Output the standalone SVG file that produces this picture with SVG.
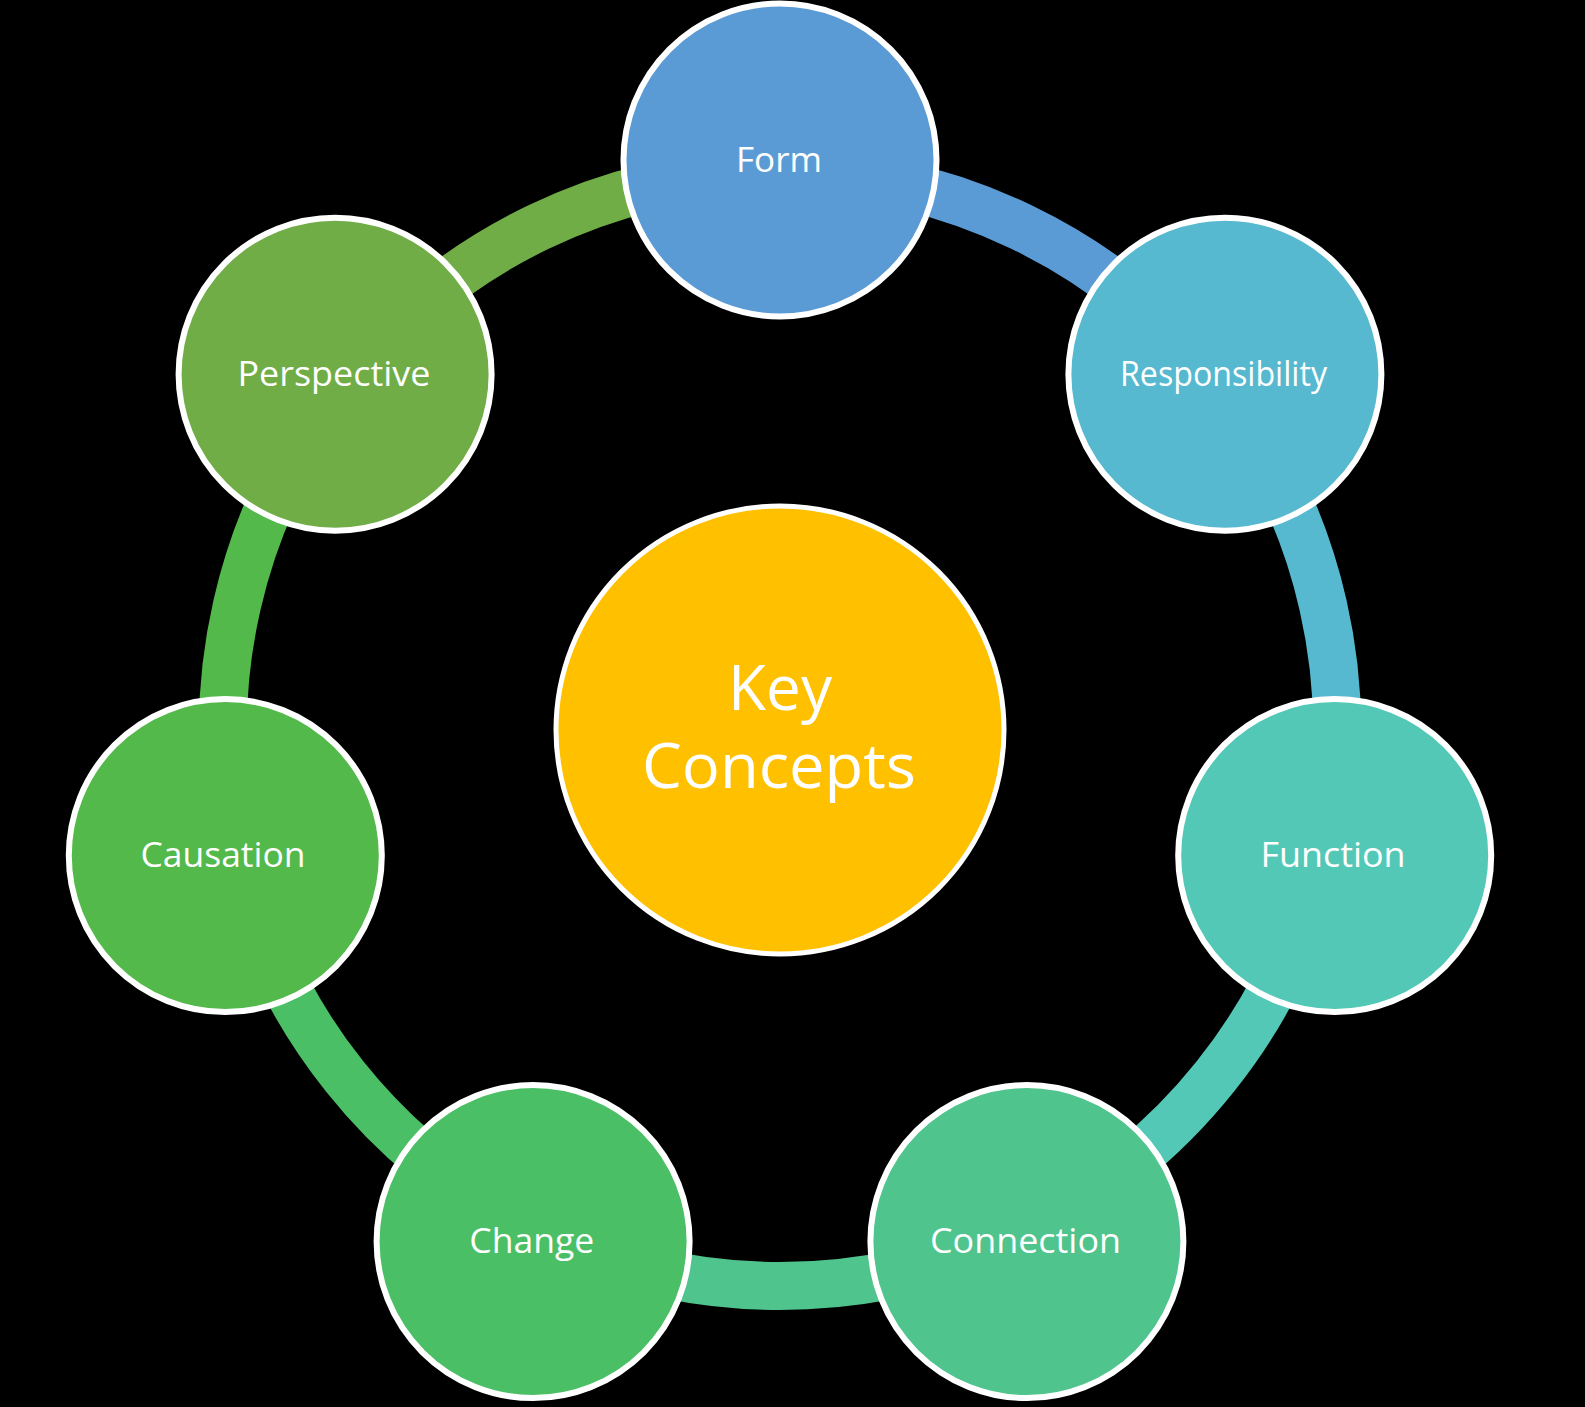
<svg xmlns="http://www.w3.org/2000/svg" width="1585" height="1407" viewBox="0 0 1585 1407">
<style>
.node circle{stroke:#FFFFFF;stroke-width:6}
.arc{fill:none;stroke-width:48}
.lbl{font-family:"Open Sans","Noto Sans","Liberation Sans",sans-serif;font-size:35px;fill:#FFFFFF;text-anchor:middle}
.big{font-family:"Open Sans","Noto Sans","Liberation Sans",sans-serif;font-size:63px;fill:#FFFFFF;text-anchor:middle}
</style>
<rect x="0" y="0" width="1585" height="1407" fill="#000000"/>
<g id="connectors">
<path class="arc" stroke="#5B9BD5" d="M780,172 A557,557 0 0 1 1215.48,381.72"/>
<path class="arc" stroke="#56B9CF" d="M1215.48,381.72 A557,557 0 0 1 1323.04,852.94"/>
<path class="arc" stroke="#53C8B7" d="M1323.04,852.94 A557,557 0 0 1 1021.67,1230.84"/>
<path class="arc" stroke="#4FC48D" d="M1021.67,1230.84 A557,557 0 0 1 538.33,1230.84"/>
<path class="arc" stroke="#4BBF65" d="M538.33,1230.84 A557,557 0 0 1 236.96,852.94"/>
<path class="arc" stroke="#53B94A" d="M236.96,852.94 A557,557 0 0 1 344.52,381.72"/>
<path class="arc" stroke="#70AD47" d="M344.52,381.72 A557,557 0 0 1 780,172"/>
</g>
<g id="center" class="node">
<circle cx="780" cy="730" r="224" fill="#FFC000" style="stroke-width:5"/>
<text class="big" x="780" y="710" textLength="104" lengthAdjust="spacingAndGlyphs">Key</text>
<text class="big" x="779" y="788" textLength="274" lengthAdjust="spacingAndGlyphs">Concepts</text>
</g>
<g id="node-form" class="node">
<circle cx="780" cy="160" r="156.5" fill="#5B9BD5"/>
<text class="lbl" x="779" y="172" textLength="86" lengthAdjust="spacingAndGlyphs">Form</text>
</g>
<g id="node-responsibility" class="node">
<circle cx="1224.9" cy="374.2" r="156.5" fill="#56B9CF"/>
<text class="lbl" x="1223.5" y="386" textLength="207" lengthAdjust="spacingAndGlyphs">Responsibility</text>
</g>
<g id="node-function" class="node">
<circle cx="1334.7" cy="855.6" r="156.5" fill="#53C8B7"/>
<text class="lbl" x="1333" y="867" textLength="145" lengthAdjust="spacingAndGlyphs">Function</text>
</g>
<g id="node-connection" class="node">
<circle cx="1026.9" cy="1241.6" r="156.5" fill="#4FC48D"/>
<text class="lbl" x="1025.5" y="1253" textLength="191" lengthAdjust="spacingAndGlyphs">Connection</text>
</g>
<g id="node-change" class="node">
<circle cx="533.1" cy="1241.6" r="156.5" fill="#4BBF65"/>
<text class="lbl" x="531.8" y="1253" textLength="125" lengthAdjust="spacingAndGlyphs">Change</text>
</g>
<g id="node-causation" class="node">
<circle cx="225.3" cy="855.6" r="156.5" fill="#53B94A"/>
<text class="lbl" x="223" y="867" textLength="165" lengthAdjust="spacingAndGlyphs">Causation</text>
</g>
<g id="node-perspective" class="node">
<circle cx="335.1" cy="374.2" r="156.5" fill="#70AD47"/>
<text class="lbl" x="334" y="386" textLength="193" lengthAdjust="spacingAndGlyphs">Perspective</text>
</g>
</svg>
